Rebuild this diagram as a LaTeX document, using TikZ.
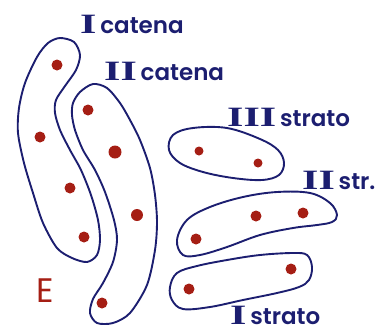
\documentclass[tikz,border=0pt]{standalone}
\usepackage{fontspec}
\newfontfamily\hand{Poppins}[UprightFont=* SemiBold]
\newfontfamily\handr{Poppins}
\newfontfamily\numf{Liberation Serif}[UprightFont=* Bold]
\definecolor{navy}{RGB}{28,30,112}
\definecolor{dotred}{RGB}{165,30,20}
\tikzset{
  blob/.style={draw=navy, line width=1.9pt, line join=round},
  dot/.style={circle, fill=dotred, inner sep=0pt, minimum size=11pt},
  sdot/.style={circle, fill=dotred, inner sep=0pt, minimum size=9pt},
  lbl/.style={text=navy, inner sep=0pt, anchor=base west, font=\hand\fontsize{23}{23}\selectfont},
}
\newcommand{\rn}[1]{{\numf\fontsize{28}{28}\selectfont\scalebox{1.5}[1]{#1}}}
\begin{document}
\begin{tikzpicture}[x=1pt,y=-1pt]
\useasboundingbox (0,0) rectangle (386,333);
% I catena
\draw[blob] plot[smooth cycle, tension=0.5] coordinates {
 (60,38) (74,42) (80,55) (76,70) (65,86) (56,100) (55,113) (60,130) (70,150) (81,170)
 (91,195) (98,220) (100,240) (97,255) (87,262) (72,258) (57,248) (43,223) (33,193)
 (24,163) (18,133) (19,108) (25,83) (37,57) (48,43)};
% II catena
\draw[blob] plot[smooth cycle, tension=0.5] coordinates {
 (93,84) (107,88) (120,103) (130,120) (140,140) (150,168) (155,195) (157,222)
 (155,250) (147,285) (130,313) (113,323) (97,323) (90,313) (93,299) (103,283)
 (113,262) (117,240) (114,220) (105,192) (95,170) (83,150) (75,130) (72,115) (73,103) (80,92)};
% III strato
\draw[blob] plot[smooth cycle, tension=0.6] coordinates {
 (169,150) (173,135) (193,128) (227,128) (260,139) (278,150) (284,163) (279,175)
 (262,180) (233,178) (203,172) (180,163)};
% II str
\draw[blob] plot[smooth cycle, tension=0.6] coordinates {
 (177,240) (187,220) (210,207) (243,197) (277,192) (310,193) (330,203) (337,215)
 (332,222) (317,225) (293,228) (260,235) (227,247) (200,255) (183,255)};
% I strato
\draw[blob] plot[smooth cycle, tension=0.6] coordinates {
 (170,287) (177,273) (197,266) (227,260) (260,255) (293,253) (307,255) (312,267)
 (309,280) (299,287) (277,293) (243,300) (210,307) (183,309) (172,300)};
% dots
\node[dot] (a1) at (57,65) {};
\node[dot] (a2) at (40,137) {};
\node[dot] (a3) at (70,188) {};
\node[dot] (a4) at (84,237) {};
\node[dot] (b1) at (88,110) {};
\node[dot,minimum size=13pt] (b2) at (115,152) {};
\node[dot,minimum size=12pt] (b3) at (137,215) {};
\node[dot] (b4) at (102,303) {};
\node[sdot] (c1) at (199,151) {};
\node[sdot] (c2) at (258,163) {};
\node[dot] (d1) at (256,216) {};
\node[dot] (d2) at (303,213) {};
\node[dot] (d3) at (196,239) {};
\node[dot] (e1) at (291,269) {};
\node[dot] (e2) at (189,289) {};
% labels
\node[lbl] (l1) at (80,33) {\rn{I}\,catena};
\node[lbl] (l2) at (104,80) {\rn{II}\,catena};
\node[lbl] (l3) at (227,126) {\rn{III}\,strato};
\node[lbl] (l4) at (302,189) {\rn{II}\,str.};
\node[lbl] (l5) at (230,324) {\rn{I}\,strato};
\node[text=dotred, inner sep=0pt, font=\handr\fontsize{34}{34}\selectfont] (E) at (45,291) {E};
\end{tikzpicture}
\end{document}
